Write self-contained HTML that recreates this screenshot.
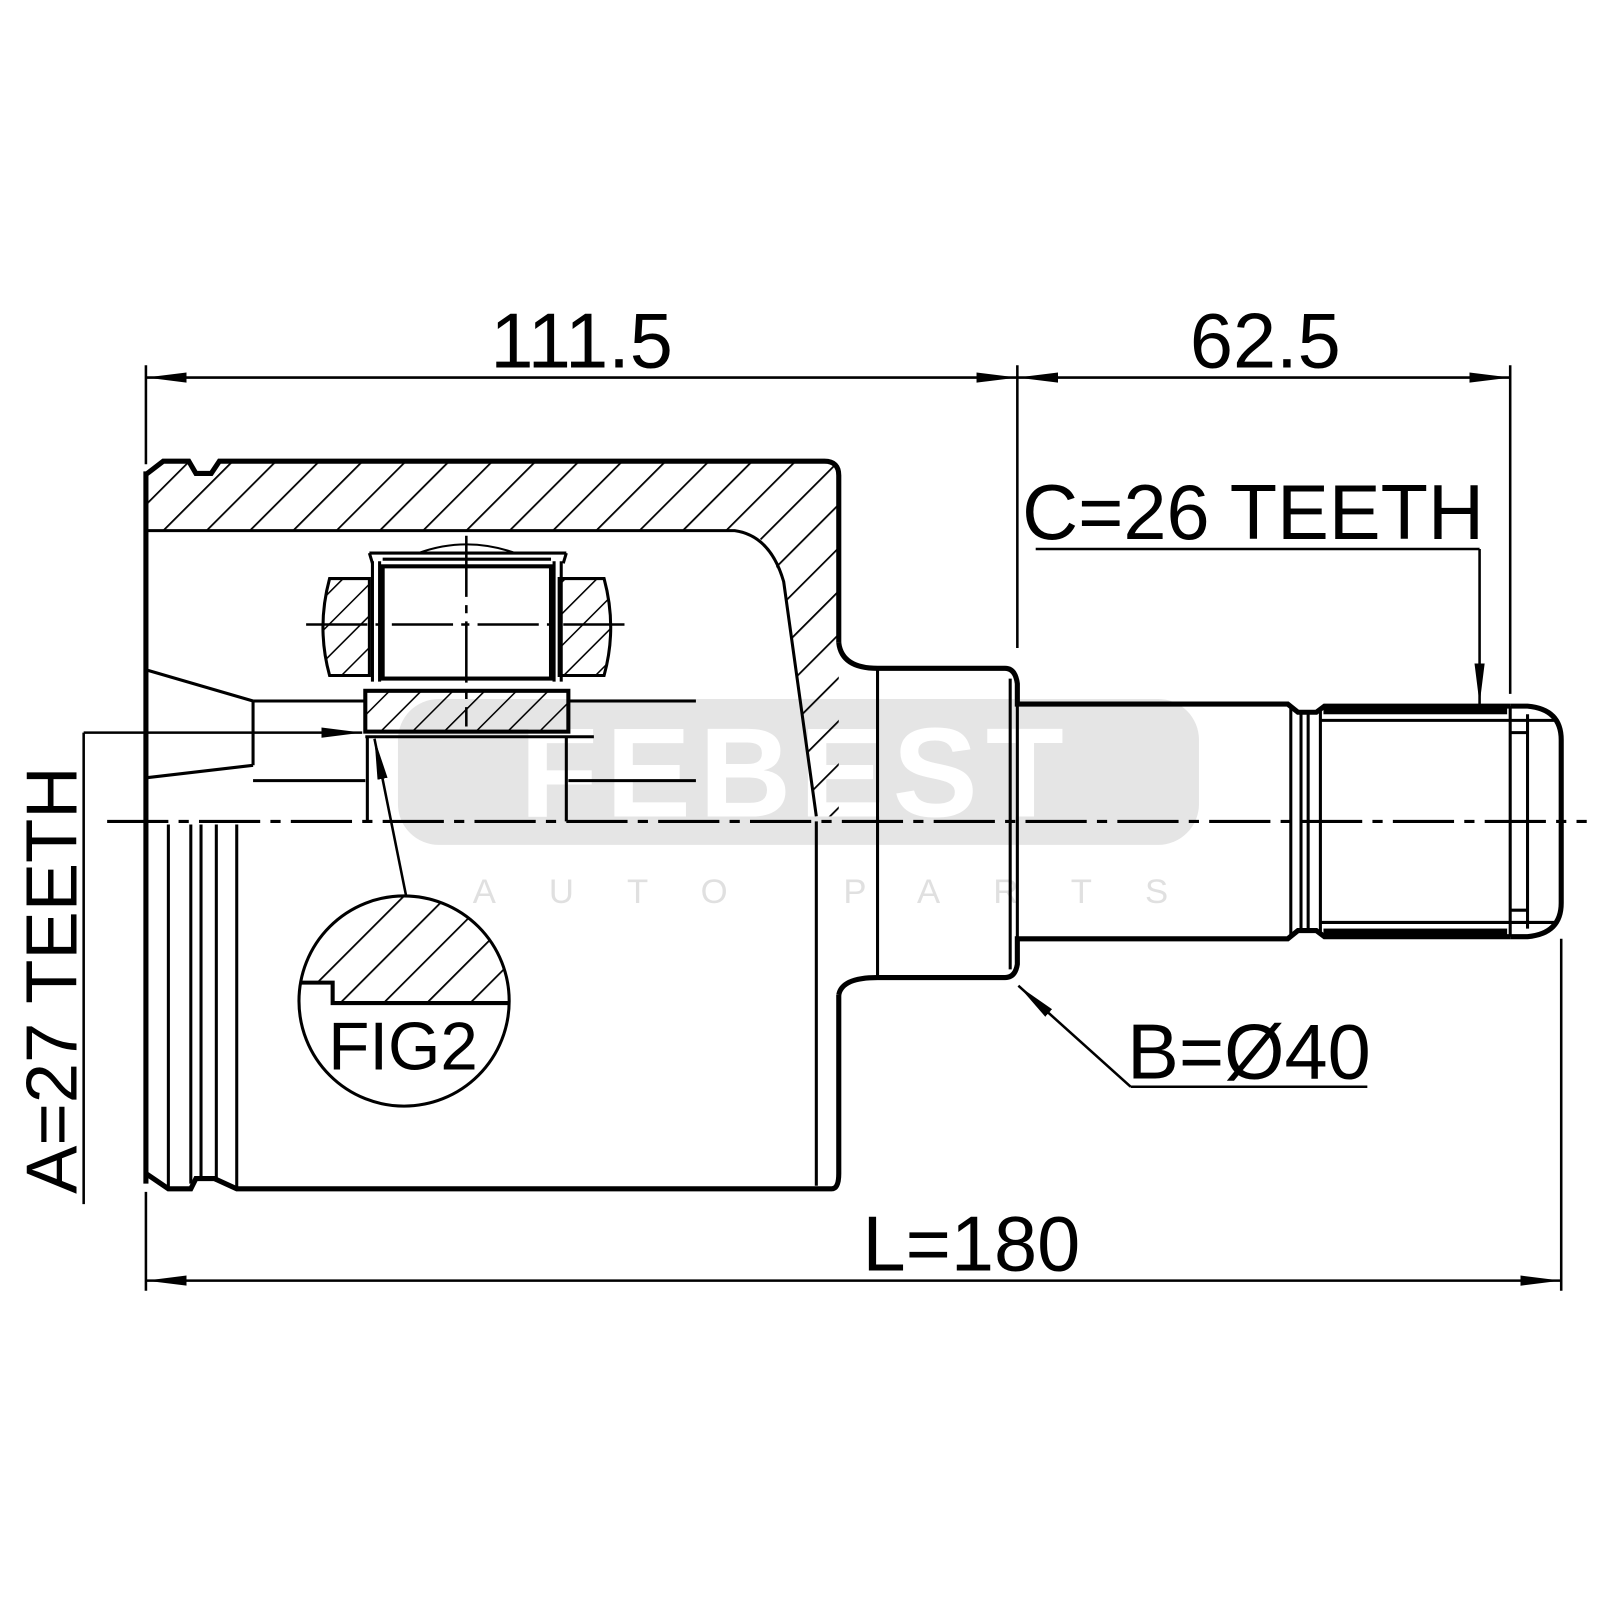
<!DOCTYPE html>
<html><head><meta charset="utf-8"><style>html,body{margin:0;padding:0;background:#fff}svg{display:block}</style></head><body>
<svg width="1600" height="1600" viewBox="0 0 1600 1600" xmlns="http://www.w3.org/2000/svg" font-family="Liberation Sans, sans-serif">
<defs>
<pattern id="h" patternUnits="userSpaceOnUse" width="30" height="30" patternTransform="rotate(45)">
<line x1="0" y1="0" x2="0" y2="30" stroke="#000" stroke-width="3.5"/>
</pattern>
<pattern id="h2" patternUnits="userSpaceOnUse" width="22" height="22" patternTransform="rotate(45)">
<line x1="0" y1="0" x2="0" y2="22" stroke="#000" stroke-width="3"/>
</pattern>
<marker id="a" markerWidth="40" markerHeight="14" refX="40" refY="7" orient="auto" markerUnits="userSpaceOnUse"><path d="M0,2 L40,7 L0,12 Z" fill="#000"/></marker>
<marker id="as" markerWidth="40" markerHeight="14" refX="0" refY="7" orient="auto" markerUnits="userSpaceOnUse"><path d="M40,2 L0,7 L40,12 Z" fill="#000"/></marker>
<clipPath id="c"><circle cx="396" cy="981" r="103"/></clipPath>
</defs>
<g transform="scale(1.0204)">
<rect x="390" y="685" width="785" height="143" rx="40" fill="#e5e5e5"/>
<text x="780" y="800" font-size="125" font-weight="bold" fill="#fff" text-anchor="middle" letter-spacing="8">FEBEST</text>
<text x="830" y="885" font-size="34" fill="#e0e0e0" text-anchor="middle" letter-spacing="52">AUTO PARTS</text>

<path d="M143,465 L160,452 L185,452 L192,464 L207,464 L215,452 L808,452 Q822,452 822,466 L822,800 L800,800 L770,590 Q760,535 735,520 L143,520 Z" fill="url(#h)"/>
<path d="M143,465 L160,452 L185,452 L192,464 L207,464 L215,452 L808,452 Q822,452 822,466 L822,630" fill="none" stroke="#000" stroke-width="5"/>
<path d="M143,520 L720,520 Q755,525 768,570 L800,800" fill="none" stroke="#000" stroke-width="3"/>
<line x1="143" y1="462" x2="143" y2="1160" stroke="#000" stroke-width="5"/>
<path d="M143,1150 L165,1165 L187,1165 L192,1155 L210,1155 L232,1165 L815,1165 Q822,1165 822,1150 L822,975" fill="none" stroke="#000" stroke-width="5"/>
<g stroke="#000" stroke-width="3">
<line x1="165" y1="808" x2="165" y2="1165"/><line x1="187" y1="808" x2="187" y2="1160"/>
<line x1="197" y1="808" x2="197" y2="1155"/><line x1="212" y1="808" x2="212" y2="1158"/>
<line x1="232" y1="808" x2="232" y2="1165"/><line x1="800" y1="805" x2="800" y2="1162"/>
</g>
<path d="M822,630 Q825,655 860,655 L985,655 Q995,655 997,670 L997,690 L1262,690 L1272,698 L1290,698 L1298,692 L1480,692" fill="none" stroke="#000" stroke-width="5"/>
<path d="M822,975 Q825,958 860,958 L985,958 Q995,958 997,945 L997,920 L1262,920 L1272,912 L1290,912 L1298,918 L1480,918" fill="none" stroke="#000" stroke-width="5"/>
<g stroke="#000" stroke-width="3" fill="none">
<line x1="860" y1="655" x2="860" y2="958"/><line x1="990" y1="665" x2="990" y2="950"/>
<line x1="997" y1="690" x2="997" y2="920"/>
<line x1="1265" y1="692" x2="1265" y2="918"/><line x1="1275" y1="698" x2="1275" y2="912"/>
<line x1="1282" y1="698" x2="1282" y2="912"/><line x1="1294" y1="695" x2="1294" y2="915"/>
<line x1="1295" y1="706" x2="1480" y2="706"/><line x1="1295" y1="904" x2="1480" y2="904"/>
<line x1="1480" y1="692" x2="1480" y2="918"/><line x1="1497" y1="700" x2="1497" y2="910"/>
<line x1="1480" y1="718" x2="1497" y2="718"/><line x1="1480" y1="892" x2="1497" y2="892"/>
<path d="M1480,692 L1497,692 Q1530,695 1530,725 L1530,885 Q1530,915 1497,918 L1480,918" stroke-width="5"/>
<line x1="1480" y1="706" x2="1525" y2="706"/><line x1="1480" y1="904" x2="1525" y2="904"/>
</g>
<rect x="1297" y="692" width="180" height="8" fill="#000"/>
<rect x="1297" y="910" width="180" height="8" fill="#000"/>

<path d="M323,567 L362,567 L362,662 L323,662 Q310,615 323,567 Z" fill="url(#h2)" stroke="#000" stroke-width="3"/>
<path d="M548,567 L592,567 Q605,615 592,662 L548,662 Z" fill="url(#h2)" stroke="#000" stroke-width="3"/>
<rect x="375" y="555" width="165" height="110" fill="#fff" stroke="#000" stroke-width="4"/>
<g stroke="#000" stroke-width="3" fill="none">
<line x1="365" y1="550" x2="365" y2="668"/><line x1="372" y1="550" x2="372" y2="668"/>
<line x1="543" y1="550" x2="543" y2="668"/><line x1="550" y1="550" x2="550" y2="668"/>
<path d="M362,542 L555,542 M362,542 L365,552 M555,542 L552,552"/>
<line x1="375" y1="548" x2="540" y2="548"/>
<path d="M410,542 Q457,525 505,542" stroke-width="2"/>
<line x1="300" y1="612" x2="618" y2="612" stroke-width="2.5" stroke-dasharray="60,8,8,8"/>
<line x1="457" y1="525" x2="457" y2="712" stroke-width="2.5" stroke-dasharray="60,8,8,8"/>
</g>
<rect x="358" y="677" width="199" height="40" fill="url(#h2)" stroke="#000" stroke-width="4"/>
<g stroke="#000" stroke-width="3" fill="none">
<line x1="358" y1="722" x2="582" y2="722"/>
<line x1="360" y1="722" x2="360" y2="805"/><line x1="555" y1="722" x2="555" y2="805"/>
<line x1="557" y1="687" x2="682" y2="687"/><line x1="557" y1="765" x2="682" y2="765"/>
<line x1="248" y1="687" x2="358" y2="687"/><line x1="248" y1="765" x2="358" y2="765"/>
<line x1="248" y1="687" x2="248" y2="750"/>
<line x1="145" y1="657" x2="248" y2="687"/><line x1="145" y1="762" x2="248" y2="750"/>
</g>
<line x1="105" y1="805" x2="1555" y2="805" stroke="#000" stroke-width="3" stroke-dasharray="60,10,10,10"/>

<line x1="82" y1="718" x2="355" y2="718" stroke="#000" stroke-width="2.5" marker-end="url(#a)"/>
<line x1="82" y1="718" x2="82" y2="1180" stroke="#000" stroke-width="2.5"/>
<text transform="translate(75,1170) rotate(-90)" font-size="71">A=27 TEETH</text>

<line x1="398" y1="878" x2="367" y2="724" stroke="#000" stroke-width="2.5" marker-end="url(#a)"/>
<g clip-path="url(#c)">
<path d="M290,860 L510,860 L510,983 L326,983 L326,963 L290,963 Z" fill="url(#h)"/>
<path d="M290,963 L326,963 L326,983 L510,983" fill="none" stroke="#000" stroke-width="4"/>
</g>
<circle cx="396" cy="981" r="103" fill="none" stroke="#000" stroke-width="3"/>
<text x="395" y="1048" font-size="66" text-anchor="middle">FIG2</text>

<g stroke="#000" stroke-width="2.5">
<line x1="143" y1="358" x2="143" y2="455"/><line x1="997" y1="358" x2="997" y2="635"/><line x1="1480" y1="358" x2="1480" y2="680"/>
<line x1="143" y1="370" x2="997" y2="370" marker-start="url(#as)" marker-end="url(#a)"/>
<line x1="997" y1="370" x2="1480" y2="370" marker-start="url(#as)" marker-end="url(#a)"/>
<line x1="1015" y1="538" x2="1450" y2="538"/>
<line x1="1450" y1="538" x2="1450" y2="690" marker-end="url(#a)"/>
<line x1="1108" y1="1065" x2="1340" y2="1065"/>
<line x1="1108" y1="1065" x2="998" y2="966" marker-end="url(#a)"/>
<line x1="143" y1="1168" x2="143" y2="1265"/><line x1="1530" y1="920" x2="1530" y2="1265"/>
<line x1="143" y1="1255" x2="1530" y2="1255" marker-start="url(#as)" marker-end="url(#a)"/>
</g>
<g font-size="76" text-anchor="middle">
<text x="570" y="360">111.5</text>
<text x="1240" y="360">62.5</text>
<text x="1228" y="528">C=26 TEETH</text>
<text x="1224" y="1057">B=Ø40</text>
<text x="952" y="1245">L=180</text>
</g>
</g>
</svg>
</body></html>
